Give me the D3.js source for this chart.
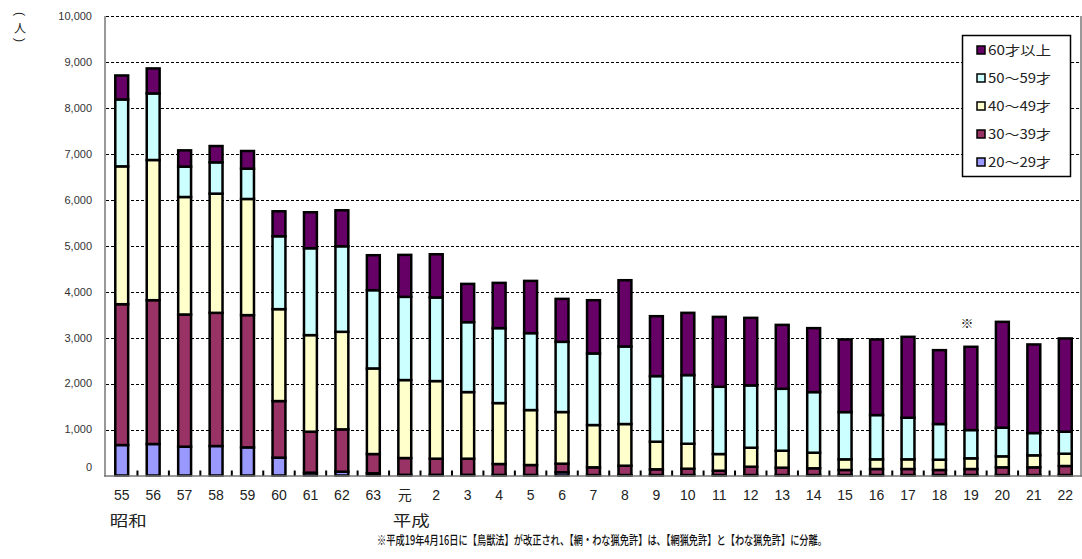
<!DOCTYPE html>
<html><head><meta charset="utf-8">
<script src="https://cdn.jsdelivr.net/npm/d3@7"></script>
<style>body{margin:0;background:#fff}svg{display:block}</style>
</head><body>
<script>
const years = ["55","56","57","58","59","60","61","62","63","元","2","3","4","5","6","7","8","9","10","11","12","13","14","15","16","17","18","19","20","21","22"];
const age20 = [663,685,627,641,612,388,62,83,48,15,15,15,12,12,70,10,10,10,10,10,10,10,10,10,10,10,10,10,10,10,10];
const age30 = [3065,3130,2877,2899,2878,1232,891,921,419,365,351,351,238,216,187,168,203,125,138,94,181,160,147,110,131,131,110,131,168,168,197];
const age40 = [3000,3051,2557,2594,2528,2000,2102,2123,1863,1697,1689,1449,1326,1196,1124,920,907,600,543,363,413,369,339,232,211,211,224,233,239,261,267];
const age50 = [1456,1449,661,681,660,1587,1891,1862,1703,1811,1819,1522,1631,1674,1528,1558,1688,1428,1494,1464,1357,1348,1319,1028,963,905,776,615,623,485,478];
const age60 = [522,544,354,355,384,543,783,783,761,913,941,833,985,1137,935,1159,1442,1304,1355,1521,1470,1391,1392,1581,1646,1761,1608,1812,2304,1928,2031];
const seriesNames = ["20～29才","30～39才","40～49才","50～59才","60才以上"];
const seriesColors = ["#9999FF","#993366","#FFFFCC","#CCFFFF","#660066"];
const yTicks = [0,1000,2000,3000,4000,5000,6000,7000,8000,9000,10000];
const eraLabels = [{name:"昭和", at:"55"},{name:"平成", at:"元"}];
const footnote = "※平成19年4月16日に【鳥獣法】が改正され、【網・わな猟免許】は、【網猟免許】と【わな猟免許】に分離。";
const markYear = "19";

const W = 1082, H = 559;
const svg = d3.select("body").append("svg").attr("width", W).attr("height", H);
const pLeft = 106, pRight = 1081, pTop = 16, pBottom = 475.5;
const x = d3.scaleBand().domain(years).range([pLeft, pRight]).paddingInner(0.59).paddingOuter(0.295);
const y = d3.scaleLinear().domain([0, 10000]).range([pBottom, pTop]);
const jp = "'Noto Sans CJK JP', sans-serif";
const num = "'Liberation Sans', Arial, sans-serif";

// gridlines
svg.append("g").selectAll("line").data(yTicks.filter(d => d > 0)).join("line")
  .attr("x1", pLeft).attr("x2", pRight - 2)
  .attr("y1", d => Math.round(y(d)) + 0.5).attr("y2", d => Math.round(y(d)) + 0.5)
  .attr("stroke", "#000").attr("stroke-width", 1).attr("stroke-dasharray", "3,2");

// y axis labels
svg.append("g").selectAll("text").data(yTicks).join("text")
  .attr("x", 92).attr("y", d => y(d) + (d === 0 ? -8 : 0))
  .attr("dy", "0.35em").attr("text-anchor", "end")
  .attr("font-family", num).attr("font-size", 11).attr("fill", "#333")
  .text(d => d3.format(",")(d));

// stacked data
const table = years.map((yr, i) => ({year: yr, s0: age20[i], s1: age30[i], s2: age40[i], s3: age50[i], s4: age60[i]}));
const stack = d3.stack().keys(["s0","s1","s2","s3","s4"])(table);

svg.append("g").selectAll("g").data(stack).join("g")
  .attr("fill", (d, i) => seriesColors[i])
  .selectAll("rect").data(d => d).join("rect")
  .attr("x", d => x(d.data.year))
  .attr("width", x.bandwidth())
  .attr("y", d => y(d[1]))
  .attr("height", d => Math.max(0, y(d[0]) - y(d[1])))
  .attr("stroke", "#000").attr("stroke-width", 2.5);

// axes lines
svg.append("line").attr("x1", 105).attr("x2", 105).attr("y1", pTop).attr("y2", pBottom + 1)
  .attr("stroke", "#999").attr("stroke-width", 2);
svg.append("line").attr("x1", pRight).attr("x2", pRight).attr("y1", pTop).attr("y2", pBottom + 1)
  .attr("stroke", "#999").attr("stroke-width", 2);
svg.append("line").attr("x1", 104).attr("x2", pRight + 1).attr("y1", pBottom + 0.5).attr("y2", pBottom + 0.5)
  .attr("stroke", "#777").attr("stroke-width", 1.5);

// x tick marks (category boundaries, inside)
const step = x.step();
svg.append("g").selectAll("line").data(years.slice(1)).join("line")
  .attr("x1", d => x(d) - (step - x.bandwidth()) / 2).attr("x2", d => x(d) - (step - x.bandwidth()) / 2)
  .attr("y1", pBottom).attr("y2", pBottom - 5)
  .attr("stroke", "#000").attr("stroke-width", 2);

// x labels
svg.append("g").selectAll("text").data(years).join("text")
  .attr("x", d => x(d) + x.bandwidth() / 2).attr("y", 500)
  .attr("text-anchor", "middle")
  .attr("font-family", d => d === "元" ? jp : num).attr("font-size", 14).attr("fill", "#222")
  .text(d => d);

svg.append("g").selectAll("text").data(eraLabels).join("text")
  .attr("x", d => x(d.at) + x.bandwidth() / 2 - 12).attr("y", 526)
  .attr("font-family", jp).attr("font-size", 15).attr("fill", "#222")
  .attr("textLength", 37).attr("lengthAdjust", "spacingAndGlyphs")
  .text(d => d.name);

// unit label (vertical: rotated parentheses around 人)
const unitParts = [{t: "(", cy: 14, rot: 90, f: num}, {t: "人", cy: 27, rot: 0, f: jp}, {t: ")", cy: 40, rot: 90, f: num}];
svg.append("g").selectAll("text").data(unitParts).join("text")
  .attr("transform", d => `translate(20,${d.cy}) rotate(${d.rot})`)
  .attr("text-anchor", "middle").attr("dominant-baseline", "central")
  .attr("font-family", d => d.f).attr("font-size", 12).attr("fill", "#222")
  .text(d => d.t);

// mark
svg.append("text").attr("x", x(markYear) + x.bandwidth() / 2 - 4).attr("y", 328)
  .attr("text-anchor", "middle").attr("font-family", jp).attr("font-size", 13).attr("fill", "#222")
  .text("※");

// legend
const lg = svg.append("g");
lg.append("rect").attr("x", 962.5).attr("y", 35.5).attr("width", 108).attr("height", 141)
  .attr("fill", "#fff").attr("stroke", "#000").attr("stroke-width", 1.5);
const order = [4,3,2,1,0];
order.forEach((si, r) => {
  const cy = 50 + r * 28;
  lg.append("rect").attr("x", 977).attr("y", cy - 4).attr("width", 8).attr("height", 8)
    .attr("fill", seriesColors[si]).attr("stroke", "#000").attr("stroke-width", 1.5);
  lg.append("text").attr("x", 988).attr("y", cy).attr("dy", "0.38em")
    .attr("font-family", jp).attr("font-size", 13).attr("fill", "#222")
    .attr("textLength", 63).attr("lengthAdjust", "spacingAndGlyphs")
    .text(seriesNames[si]);
});

// footnote
svg.append("text").attr("x", 377).attr("y", 545)
  .attr("font-family", jp).attr("font-size", 12.5).attr("font-weight", 500).attr("fill", "#111")
  .attr("textLength", 450).attr("lengthAdjust", "spacingAndGlyphs")
  .text(footnote);
</script>
</body></html>
